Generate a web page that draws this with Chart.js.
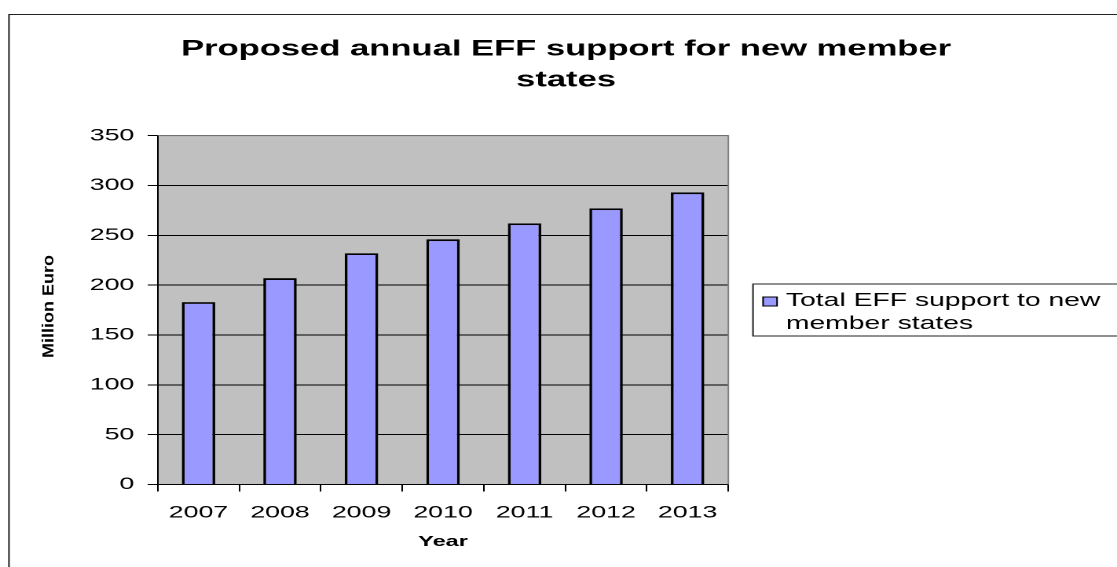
<!DOCTYPE html>
<html>
<head>
<meta charset="utf-8">
<title>Proposed annual EFF support for new member states</title>
<script src="https://cdn.jsdelivr.net/npm/chart.js@4.4.1/dist/chart.umd.min.js"></script>
<style>
  html, body { margin: 0; padding: 0; background: #fff; }
  #chart { display: block; }
</style>
</head>
<body>
<!-- drawn narrow and stretched sideways, like the original picture -->
<canvas id="chart" width="711" height="567" style="width:1117px;height:567px"></canvas>
<script>
const YEARS        = ['2007', '2008', '2009', '2010', '2011', '2012', '2013'];
const SUPPORT      = [183, 207, 232, 246, 262, 277, 293];
const Y_TICKS      = [0, 50, 100, 150, 200, 250, 300, 350];
const TITLE_LINES  = ['Proposed annual EFF support for new member', 'states'];
const LEGEND_LINES = ['Total EFF support to new', 'member states'];
const X_TITLE      = 'Year';
const Y_TITLE      = 'Million Euro';

const BAR_FILL  = '#9999ff';
const PLOT_FILL = '#c0c0c0';
const FONT      = '"Liberation Sans", Arial, sans-serif';

Chart.defaults.font.family = FONT;
Chart.defaults.color = '#000';

// background, frame, legend and the squeezed y title
const framePlugin = {
  id: 'frame',
  beforeDraw(chart) {
    const { ctx, chartArea: a } = chart;
    ctx.save();
    ctx.fillStyle = '#fff';
    ctx.fillRect(0, 0, chart.width, chart.height);
    ctx.strokeStyle = '#222';
    ctx.lineWidth = 1;
    ctx.strokeRect(5.7, 14.5, chart.width + 20, chart.height + 20);
    ctx.fillStyle = PLOT_FILL;
    ctx.fillRect(a.left, a.top, a.right - a.left, a.bottom - a.top);
    ctx.restore();
  },
  beforeDatasetsDraw(chart) {
    const { ctx, chartArea: a } = chart;
    ctx.save();
    ctx.strokeStyle = '#808080';
    ctx.lineWidth = 1;
    ctx.beginPath();
    ctx.moveTo(a.left, a.top);
    ctx.lineTo(a.right, a.top);
    ctx.lineTo(a.right, a.bottom);
    ctx.stroke();
    ctx.restore();
  },
  afterDraw(chart) {
    const { ctx } = chart;
    ctx.save();

    // y axis title
    ctx.translate(31.2, 306.5);
    ctx.rotate(-Math.PI / 2);
    ctx.scale(1, 0.58);
    ctx.font = `bold 18px ${FONT}`;
    ctx.textAlign = 'center';
    ctx.textBaseline = 'middle';
    ctx.fillStyle = '#000';
    ctx.fillText(Y_TITLE, 0, 0);
    ctx.setTransform(chart.currentDevicePixelRatio, 0, 0, chart.currentDevicePixelRatio, 0, 0);

    // legend
    ctx.strokeStyle = '#222';
    ctx.lineWidth = 1;
    ctx.strokeRect(479.3, 284, 300, 52);
    ctx.fillStyle = BAR_FILL;
    ctx.fillRect(485.7, 297, 8.9, 9);
    ctx.strokeStyle = '#000';
    ctx.strokeRect(485.7, 297, 8.9, 9);
    ctx.fillStyle = '#000';
    ctx.font = `18px ${FONT}`;
    ctx.textAlign = 'left';
    ctx.textBaseline = 'alphabetic';
    LEGEND_LINES.forEach((line, i) => ctx.fillText(line, 500.3, 306 + i * 23));
    ctx.restore();
  },
};

new Chart(document.getElementById('chart'), {
  type: 'bar',
  plugins: [framePlugin],
  data: {
    labels: YEARS,
    datasets: [{
      label: LEGEND_LINES.join(' '),
      data: SUPPORT,
      backgroundColor: BAR_FILL,
      borderColor: '#000',
      borderWidth: 1.8,
      borderSkipped: 'bottom',
      barPercentage: 0.41,
      categoryPercentage: 1,
    }],
  },
  options: {
    responsive: false,
    animation: false,
    devicePixelRatio: 2,
    events: [],
    layout: { padding: { left: 9.6, right: 0, top: 0, bottom: 0 } },
    plugins: {
      legend: { display: false },
      tooltip: { enabled: false },
      title: {
        display: true,
        text: TITLE_LINES,
        color: '#000',
        font: { size: 22, weight: 'bold', lineHeight: 1.4 },
        padding: { top: 34, bottom: 40 },
      },
    },
    scales: {
      x: {
        grid: { drawOnChartArea: false, drawTicks: true, tickLength: 7, color: '#000', offset: true },
        border: { color: '#000', width: 1 },
        ticks: { font: { size: 17 }, padding: 11, color: '#000' },
        title: {
          display: true,
          text: X_TITLE,
          font: { size: 15, weight: 'bold' },
          padding: { top: 0, bottom: 16 },
          color: '#000',
        },
        afterFit(scale) { scale.height = 82.5; },
      },
      y: {
        min: Y_TICKS[0],
        max: Y_TICKS[Y_TICKS.length - 1],
        grid: { color: '#000', lineWidth: 1, tickLength: 6.4 },
        border: { color: '#000', width: 1 },
        ticks: {
          stepSize: Y_TICKS[1] - Y_TICKS[0],
          font: { size: 17 },
          padding: 8.5,
          color: '#000',
        },
        afterFit(scale) { scale.width = 90.8; },
      },
      // empty space on the right where the legend sits
      yRight: {
        type: 'linear',
        position: 'right',
        grid: { display: false },
        border: { display: false },
        ticks: { display: false },
        afterFit(scale) { scale.width = 247.4; },
      },
    },
  },
});
</script>
</body>
</html>
